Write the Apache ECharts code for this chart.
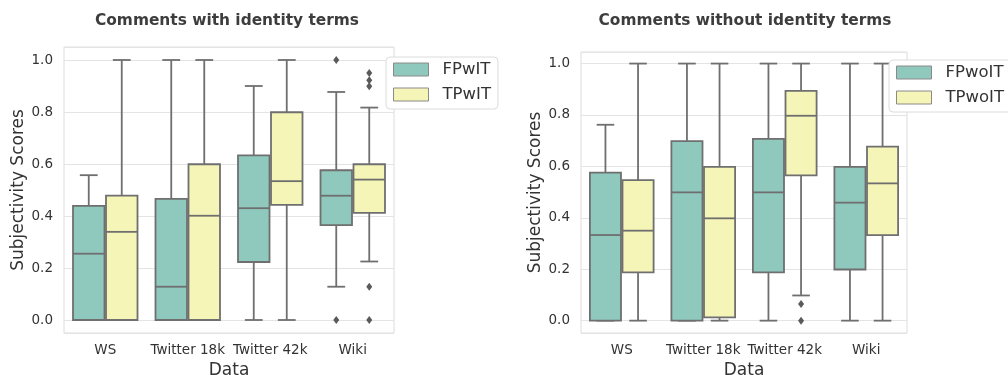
<!DOCTYPE html>
<html>
<head>
<meta charset="utf-8">
<script src="https://cdn.jsdelivr.net/npm/echarts@6/dist/echarts.min.js"></script>
<style>html,body{margin:0;padding:0;background:#fff}#c{width:1008px;height:375px}</style>
</head>
<body>
<div id="c"></div>
<script>
// ---- data (box stats: [min, q1, median, q3, max]) ----
const categories = ['WS', 'Twitter 18k', 'Twitter 42k', 'Wiki'];
const yTicks = [0, 0.2, 0.4, 0.6, 0.8, 1.0];

const fpWithIT = [
  [0, 0, 0.255, 0.439, 0.557],
  [0, 0, 0.128, 0.466, 1.0],
  [0, 0.223, 0.430, 0.633, 0.900],
  [0.128, 0.365, 0.478, 0.576, 0.877]
];
const tpWithIT = [
  [0, 0, 0.339, 0.478, 1.0],
  [0, 0, 0.401, 0.599, 1.0],
  [0, 0.443, 0.534, 0.799, 1.0],
  [0.225, 0.412, 0.540, 0.599, 0.817]
];
const fpWithITOutliers = [[3, 1.0], [3, 0.0]];
const tpWithITOutliers = [[3, 0.950], [3, 0.922], [3, 0.899], [3, 0.128], [3, 0.0]];

const fpWithoutIT = [
  [0, 0, 0.333, 0.576, 0.762],
  [0, 0, 0.499, 0.698, 1.0],
  [0, 0.188, 0.499, 0.707, 1.0],
  [0, 0.199, 0.459, 0.598, 1.0]
];
const tpWithoutIT = [
  [0, 0.188, 0.350, 0.547, 1.0],
  [0, 0.013, 0.398, 0.598, 1.0],
  [0.098, 0.565, 0.797, 0.894, 1.0],
  [0, 0.333, 0.534, 0.677, 1.0]
];
const fpWithoutITOutliers = [];
const tpWithoutITOutliers = [[2, 0.065], [2, 0.0]];

// ---- styles ----
const TEAL = '#8fc9be';
const YELLOW = '#f6f5b8';
const LINE = '#6f6f6f';
const FONT = 'DejaVu Sans';

function boxRender(side) {
  return function (params, api) {
    const cat = api.value(0);
    const band = api.size([1, 0])[0];
    const w = band * 0.4;
    const cx = api.coord([cat, 0])[0] + (side === 0 ? -w / 2 : w / 2);
    const y = i => api.coord([cat, api.value(i)])[1];
    const yMin = y(1), yQ1 = y(2), yMed = y(3), yQ3 = y(4), yMax = y(5);
    const bw = w - 1.5;
    const cap = w * 0.27;
    const ls = { stroke: LINE, lineWidth: 1.8 };
    return {
      type: 'group',
      children: [
        { type: 'line', shape: { x1: cx, y1: yQ3, x2: cx, y2: yMax }, style: ls },
        { type: 'line', shape: { x1: cx, y1: yQ1, x2: cx, y2: yMin }, style: ls },
        { type: 'line', shape: { x1: cx - cap, y1: yMax, x2: cx + cap, y2: yMax }, style: ls },
        { type: 'line', shape: { x1: cx - cap, y1: yMin, x2: cx + cap, y2: yMin }, style: ls },
        { type: 'rect', shape: { x: cx - bw / 2, y: yQ3, width: bw, height: yQ1 - yQ3 },
          style: { fill: api.visual('color'), stroke: LINE, lineWidth: 1.8 } },
        { type: 'line', shape: { x1: cx - bw / 2, y1: yMed, x2: cx + bw / 2, y2: yMed }, style: ls }
      ]
    };
  };
}

function outlierRender(side) {
  return function (params, api) {
    const cat = api.value(0);
    const band = api.size([1, 0])[0];
    const w = band * 0.4;
    const p = api.coord([cat, api.value(1)]);
    const cx = p[0] + (side === 0 ? -w / 2 : w / 2);
    const cy = p[1];
    return {
      type: 'polygon',
      shape: { points: [[cx, cy - 4], [cx + 3, cy], [cx, cy + 4], [cx - 3, cy]] },
      style: { fill: '#5a5a5a' }
    };
  };
}

function boxData(stats) {
  return stats.map((s, i) => [i].concat(s));
}

function gridAxes(idx, yNameGap) {
  return {
    x: {
      type: 'category', gridIndex: idx, data: categories,
      axisLine: { show: false }, axisTick: { show: false },
      axisLabel: { color: '#333', fontSize: 13.5, fontFamily: FONT, margin: 10, interval: 0, hideOverlap: false },
      name: 'Data', nameLocation: 'middle', nameGap: 26,
      nameTextStyle: { color: '#333', fontSize: 17, fontFamily: FONT },
      splitLine: { show: false }
    },
    y: {
      type: 'value', gridIndex: idx, min: -0.05, max: 1.05, splitNumber: 5,
      axisLine: { show: false }, axisTick: { show: false },
      axisLabel: {
        color: '#333', fontSize: 13.5, fontFamily: FONT, margin: 11,
        showMinLabel: false, showMaxLabel: false,
        formatter: v => (yTicks.some(t => Math.abs(t - v) < 1e-6) ? v.toFixed(1) : '')
      },
      splitLine: { lineStyle: { color: '#e4e4e4', width: 1 } },
      name: 'Subjectivity Scores', nameLocation: 'middle', nameGap: yNameGap,
      nameTextStyle: { color: '#333', fontSize: 17, fontFamily: FONT }
    }
  };
}

const a0 = gridAxes(0, 37), a1 = gridAxes(1, 36.5);

function legendItem(name, color) {
  return { name: name, icon: 'rect', itemStyle: { color: color, borderColor: '#8a8a8a', borderWidth: 1 } };
}

const legendCommon = {
  orient: 'vertical', itemWidth: 35, itemHeight: 13, itemGap: 8,
  padding: [4, 7, 6, 7], borderColor: '#dcdcdc', borderWidth: 1, borderRadius: 4,
  backgroundColor: '#fff',
  textStyle: { color: '#333', fontSize: 16.5, fontFamily: FONT, lineHeight: 16, padding: [0, 0, 0, 9] }
};

const option = {
  animation: false,
  backgroundColor: '#fff',
  title: [
    { text: 'Comments with identity terms', left: 222, top: 8, textAlign: 'center',
      textStyle: { fontSize: 15.4, fontWeight: 'bold', color: '#3d3d3d', fontFamily: FONT } },
    { text: 'Comments without identity terms', left: 740, top: 8, textAlign: 'center',
      textStyle: { fontSize: 15.4, fontWeight: 'bold', color: '#3d3d3d', fontFamily: FONT } }
  ],
  legend: [
    Object.assign({}, legendCommon, { left: 386, top: 57,
      data: [legendItem('FPwIT', TEAL), legendItem('TPwIT', YELLOW)] }),
    Object.assign({}, legendCommon, { left: 889, top: 60,
      data: [legendItem('FPwoIT', TEAL), legendItem('TPwoIT', YELLOW)] })
  ],
  grid: [
    { left: 64, right: 614, top: 47, bottom: 42, show: true, borderColor: '#dcdcdc', borderWidth: 1,
      backgroundColor: 'transparent', containLabel: false, outerBoundsMode: 'none' },
    { left: 581, right: 101, top: 52, bottom: 42, show: true, borderColor: '#dcdcdc', borderWidth: 1,
      backgroundColor: 'transparent', containLabel: false, outerBoundsMode: 'none' }
  ],
  xAxis: [a0.x, a1.x],
  yAxis: [Object.assign({}, a0.y, { min: -0.05, max: 1.05 }), Object.assign({}, a1.y, { min: -0.048, max: 1.045 })],
  series: [
    { name: 'FPwIT', type: 'custom', xAxisIndex: 0, yAxisIndex: 0, renderItem: boxRender(0),
      itemStyle: { color: TEAL }, encode: { x: 0, y: [1, 2, 3, 4, 5] }, data: boxData(fpWithIT) },
    { name: 'TPwIT', type: 'custom', xAxisIndex: 0, yAxisIndex: 0, renderItem: boxRender(1),
      itemStyle: { color: YELLOW }, encode: { x: 0, y: [1, 2, 3, 4, 5] }, data: boxData(tpWithIT) },
    { name: 'FPwIT-out', type: 'custom', xAxisIndex: 0, yAxisIndex: 0, renderItem: outlierRender(0),
      encode: { x: 0, y: 1 }, data: fpWithITOutliers },
    { name: 'TPwIT-out', type: 'custom', xAxisIndex: 0, yAxisIndex: 0, renderItem: outlierRender(1),
      encode: { x: 0, y: 1 }, data: tpWithITOutliers },
    { name: 'FPwoIT', type: 'custom', xAxisIndex: 1, yAxisIndex: 1, renderItem: boxRender(0),
      itemStyle: { color: TEAL }, encode: { x: 0, y: [1, 2, 3, 4, 5] }, data: boxData(fpWithoutIT) },
    { name: 'TPwoIT', type: 'custom', xAxisIndex: 1, yAxisIndex: 1, renderItem: boxRender(1),
      itemStyle: { color: YELLOW }, encode: { x: 0, y: [1, 2, 3, 4, 5] }, data: boxData(tpWithoutIT) },
    { name: 'FPwoIT-out', type: 'custom', xAxisIndex: 1, yAxisIndex: 1, renderItem: outlierRender(0),
      encode: { x: 0, y: 1 }, data: fpWithoutITOutliers },
    { name: 'TPwoIT-out', type: 'custom', xAxisIndex: 1, yAxisIndex: 1, renderItem: outlierRender(1),
      encode: { x: 0, y: 1 }, data: tpWithoutITOutliers }
  ]
};

const chart = echarts.init(document.getElementById('c'), null, { renderer: 'canvas' });
chart.setOption(option);
</script>
</body>
</html>
